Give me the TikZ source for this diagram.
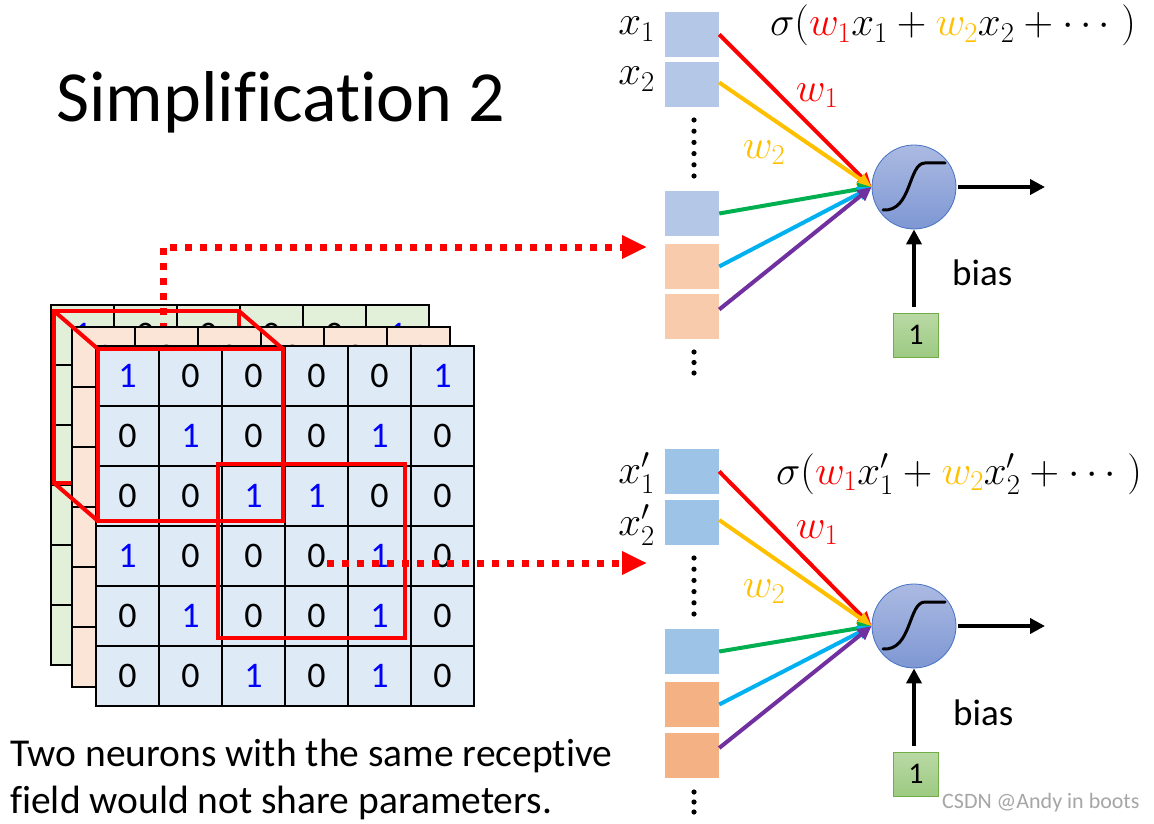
\RequirePackage{fix-cm}
\documentclass[tikz,border=0pt]{standalone}
\usepackage{fontspec}
\setmainfont{Carlito}[Ligatures={NoCommon}]
\usetikzlibrary{arrows.meta}
\definecolor{cred}{HTML}{FF0000}
\definecolor{cyel}{HTML}{FFC000}
\definecolor{cgreen}{HTML}{00B050}
\definecolor{ccyan}{HTML}{00B0F0}
\definecolor{cpurp}{HTML}{7030A0}
\definecolor{gridblue}{HTML}{DEEBF7}
\definecolor{gridorange}{HTML}{FBE5D6}
\definecolor{gridgreen}{HTML}{E2F0D9}
\definecolor{numblue}{HTML}{0000FF}
\definecolor{inblueA}{HTML}{B4C7E7}
\definecolor{inorangeA}{HTML}{F8CBAD}
\definecolor{inblueB}{HTML}{9DC3E6}
\definecolor{inorangeB}{HTML}{F4B183}
\definecolor{ntop}{HTML}{ABBAE2}
\definecolor{nbot}{HTML}{7E97D3}
\definecolor{nborder}{HTML}{4472C4}
\definecolor{btop}{HTML}{B9D9A5}
\definecolor{bbot}{HTML}{9DCA82}
\definecolor{bborder}{HTML}{70AD47}
\definecolor{wmark}{HTML}{A6A6A6}
\tikzset{
  cell/.style={draw=black, line width=1.3pt},
  num/.style={inner sep=0pt, font=\fontsize{36}{40}\selectfont},
  redbox/.style={draw=cred, line width=4pt},
  dotarrow/.style={cred, line width=7pt, dash pattern=on 7pt off 8pt, -{Triangle[length=25pt,width=22pt]}},
  inbox/.style={minimum width=54pt, minimum height=45pt, inner sep=0pt, draw=none},
  inarrow/.style={line width=4pt, -{Triangle[length=14pt,width=13pt]}},
  neuron/.style={circle, minimum size=84pt, inner sep=0pt, draw=nborder, line width=0.8pt, top color=ntop, bottom color=nbot},
  sigm/.style={line width=3pt, line cap=round},
  outarrow/.style={line width=4.5pt, -{Triangle[length=15pt,width=15pt]}},
  biasbox/.style={minimum width=45pt, minimum height=44pt, inner sep=0pt, draw=bborder, line width=1pt, top color=btop, bottom color=bbot, font=\fontsize{30}{32}\selectfont},
  mathlbl/.style={inner sep=0pt, font=\fontsize{41}{44}\selectfont},
  txt/.style={inner sep=0pt, anchor=base west},
  dotfill/.style={fill=black},
}
\newcommand\gridlayer[4]{%
  \fill[#3] (#1,#2) rectangle ++(378,360);
  \foreach \k in {0,...,6} {
    \draw[cell] ({#1+63*\k},#2) -- ++(0,360);
    \draw[cell] (#1,{#2+60*\k}) -- ++(378,0);
  }
  \draw[cell] (#1,#2) rectangle ++(378,360);
  \foreach \row [count=\r] in {{1,0,0,0,0,1},{0,1,0,0,1,0},{0,0,1,1,0,0},{1,0,0,0,1,0},{0,1,0,0,1,0},{0,0,1,0,1,0}} {
    \foreach \v [count=\c] in \row {
      \ifnum\v=1 \def\numcol{numblue}\else\def\numcol{black}\fi
      \node[num, text=\numcol] (#4-\r-\c) at ({#1+63*\c-31.5},{#2+60*\r-30}) {\v};
    }
  }
}
\begin{document}
\begin{tikzpicture}[x=1pt,y=-1pt]
\useasboundingbox (0,0) rectangle (1154,824);
\fill[white] (0,0) rectangle (1154,824);

% title
\node[txt, font=\fontsize{72}{80}\selectfont] (title) at (56,122) {Simplification 2};

% back (green) layer
\gridlayer{51}{305}{gridgreen}{g}
\draw[redbox] (54,311) rectangle (239,483);
\coordinate (d1s) at (163,330);
\coordinate (d1e) at (647,247);
\draw[dotarrow] (d1s) |- (d1e);
% middle (orange) layer
\gridlayer{72}{327}{gridorange}{o}
% front (blue) layer
\gridlayer{96}{346}{gridblue}{f}
\draw[redbox] (98,349) rectangle (283,521);
\draw[redbox] (218,464) rectangle (405,638);
\draw[redbox, line cap=round] (54,311) -- (98,349);
\draw[redbox, line cap=round] (239,311) -- (283,349);
\draw[redbox, line cap=round] (54,483) -- (98,521);
\coordinate (d2s) at (327,563);
\coordinate (d2e) at (647,563);
\draw[dotarrow] (d2s) -- (d2e);

% ---------- top neuron ----------
\node[inbox, fill=inblueA] (a1) at (692,34.5) {};
\node[inbox, fill=inblueA] (a2) at (692,84.5) {};
\node[inbox, fill=inblueA] (a3) at (692,213.5) {};
\node[inbox, fill=inorangeA] (a4) at (692,266.5) {};
\node[inbox, fill=inorangeA] (a5) at (692,316.5) {};
\foreach \yy in {120,131.2,142.4,153.6,164.8,176} {\fill[dotfill] (694,\yy) circle (2.6);}
\foreach \yy in {352,362.5,373} {\fill[dotfill] (694,\yy) circle (2.6);}
\node[mathlbl, anchor=base east] (lx1) at (655,35) {$x_1$};
\node[mathlbl, anchor=base east] (lx2) at (655,85) {$x_2$};
\node[neuron] (n1) at (914,187) {};
\draw[inarrow, cred] (a1.east) -- (n1.west);
\draw[inarrow, cyel] ([yshift=2pt]a2.east) -- (n1.west);
\draw[inarrow, cgreen] (a3.east) -- (n1.west);
\draw[inarrow, ccyan] (a4.east) -- (n1.west);
\draw[inarrow, cpurp] ([yshift=7pt]a5.east) -- (n1.west);
\draw[sigm] ([shift={(-31,23)}]n1.center) .. controls ([shift={(-2,25)}]n1.center) and ([shift={(-6,-24)}]n1.center) .. ([shift={(11,-24)}]n1.center) -- ([shift={(31,-24)}]n1.center);
\coordinate (o1) at (1045,187);
\draw[outarrow] ([xshift=2pt]n1.east) -- (o1);
\node[biasbox] (b1) at (916,335) {1};
\coordinate (bs1) at ([yshift=6pt]b1.north);
\draw[outarrow] (bs1 -| n1.south) -- (n1.south);
\node[txt, font=\fontsize{37}{40}\selectfont] (bias1) at (952,285) {bias};
\node[mathlbl, text=cred] (w1a) at (817,96) {$w_1$};
\node[mathlbl, text=cyel] (w2a) at (764,153) {$w_2$};
\node[mathlbl, anchor=base west] (f1) at (770,36) {$\sigma(\textcolor{cred}{w_1}x_1+\textcolor{cyel}{w_2}x_2+\cdots\;)$};

% ---------- bottom neuron ----------
\node[inbox, fill=inblueB] (c1) at (692,471.5) {};
\node[inbox, fill=inblueB] (c2) at (692,522) {};
\node[inbox, fill=inblueB] (c3) at (692,651.5) {};
\node[inbox, fill=inorangeB] (c4) at (692,704.5) {};
\node[inbox, fill=inorangeB] (c5) at (692,755) {};
\foreach \yy in {558,569.2,580.4,591.6,602.8,614} {\fill[dotfill] (694,\yy) circle (2.6);}
\foreach \yy in {792,802,812} {\fill[dotfill] (694,\yy) circle (2.6);}
\node[mathlbl, anchor=base east] (lx1b) at (655,483) {$x'_1$};
\node[mathlbl, anchor=base east] (lx2b) at (655,535) {$x'_2$};
\node[neuron] (n2) at (914,626) {};
\draw[inarrow, cred] (c1.east) -- (n2.west);
\draw[inarrow, cyel] ([yshift=2pt]c2.east) -- (n2.west);
\draw[inarrow, cgreen] (c3.east) -- (n2.west);
\draw[inarrow, ccyan] (c4.east) -- (n2.west);
\draw[inarrow, cpurp] ([yshift=7pt]c5.east) -- (n2.west);
\draw[sigm] ([shift={(-31,23)}]n2.center) .. controls ([shift={(-2,25)}]n2.center) and ([shift={(-6,-24)}]n2.center) .. ([shift={(11,-24)}]n2.center) -- ([shift={(31,-24)}]n2.center);
\coordinate (o2) at (1045,626);
\draw[outarrow] ([xshift=2pt]n2.east) -- (o2);
\node[biasbox] (b2) at (916,774) {1};
\coordinate (bs2) at ([yshift=6pt]b2.north);
\draw[outarrow] (bs2 -| n2.south) -- (n2.south);
\node[txt, font=\fontsize{37}{40}\selectfont] (bias2) at (953,725) {bias};
\node[mathlbl, text=cred] (w1b) at (817,533) {$w_1$};
\node[mathlbl, text=cyel] (w2b) at (764,592) {$w_2$};
\node[mathlbl, anchor=base west] (f2) at (776,484) {$\sigma(\textcolor{cred}{w_1}x'_1+\textcolor{cyel}{w_2}x'_2+\cdots\;)$};

% bottom text
\node[txt, font=\fontsize{39.5}{47}\selectfont] (t1) at (10,766) {Two neurons with the same receptive};
\node[txt, font=\fontsize{39.5}{47}\selectfont] (t2) at (10,813) {field would not share parameters.};
\node[txt, text=wmark, font=\fontsize{22}{24}\selectfont] (wm) at (942,808) {CSDN @Andy in boots};
\end{tikzpicture}
\end{document}
